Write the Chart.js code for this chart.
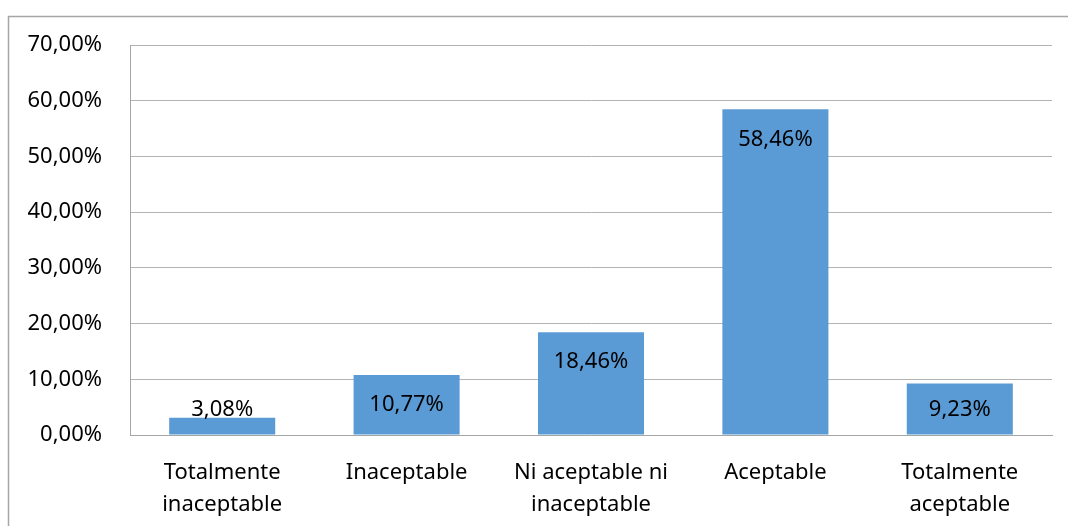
<!DOCTYPE html>
<html>
<head>
<meta charset="utf-8">
<script src="https://cdn.jsdelivr.net/npm/chart.js@4/dist/chart.umd.min.js"></script>
<style>
  body { margin: 0; background: #fff; }
  #wrap { width: 1068px; height: 526px; }
</style>
</head>
<body>
<div id="wrap"><canvas id="grafico" width="1068" height="526"></canvas></div>
<script>
// Datos del gráfico
const categorias = [
  ['Totalmente', 'inaceptable'],
  'Inaceptable',
  ['Ni aceptable ni', 'inaceptable'],
  'Aceptable',
  ['Totalmente', 'aceptable']
];
const valores = [3.08, 10.77, 18.46, 58.46, 9.23];
const etiquetasEjeY = ['0,00%', '10,00%', '20,00%', '30,00%', '40,00%', '50,00%', '60,00%', '70,00%'];

const fuente = '"Noto Sans", sans-serif';

// Borde exterior del gráfico
const borde = {
  id: 'borde',
  beforeDraw(chart) {
    const c = chart.ctx;
    c.save();
    c.strokeStyle = '#a6a6a6';
    c.lineWidth = 1.5;
    c.beginPath();
    c.moveTo(8.5, chart.height);
    c.lineTo(8.5, 16.5);
    c.lineTo(chart.width, 16.5);
    c.stroke();
    c.restore();
  }
};

// Etiquetas de valor dentro del extremo de la barra
const etiquetas = {
  id: 'etiquetas',
  afterDatasetsDraw(chart) {
    const c = chart.ctx;
    const meta = chart.getDatasetMeta(0);
    c.save();
    c.font = '22px ' + fuente;
    c.fillStyle = '#000';
    c.textAlign = 'center';
    c.textBaseline = 'middle';
    meta.data.forEach((bar, i) => {
      const y = Math.min(bar.y + 30, bar.base - 25);
      c.fillText(valores[i].toFixed(2).replace('.', ',') + '%', bar.x, y);
    });
    c.restore();
  }
};

new Chart(document.getElementById('grafico').getContext('2d'), {
  type: 'bar',
  data: {
    labels: categorias,
    datasets: [{
      data: valores,
      backgroundColor: '#5b9bd5',
      barPercentage: 0.575,
      categoryPercentage: 1
    }]
  },
  options: {
    responsive: false,
    animation: false,
    layout: { padding: { left: 0, top: 45, right: 16, bottom: 0 } },
    plugins: { legend: { display: false }, tooltip: { enabled: false } },
    scales: {
      y: {
        min: 0,
        max: 70,
        afterFit(scale) { scale.width = 130; },
        ticks: {
          stepSize: 10,
          padding: 28,
          color: '#000',
          font: { family: fuente, size: 22 },
          callback: (v, i) => etiquetasEjeY[i]
        },
        grid: { color: '#b3b3b3', drawTicks: false },
        border: { color: '#a6a6a6' }
      },
      x: {
        afterFit(scale) { scale.height = 91; },
        ticks: {
          padding: 22,
          color: '#000',
          maxRotation: 0,
          autoSkip: false,
          font: { family: fuente, size: 22, lineHeight: 1.45 }
        },
        grid: { display: false, drawTicks: false },
        border: { color: '#a6a6a6' }
      }
    }
  },
  plugins: [borde, etiquetas]
});
</script>
</body>
</html>
